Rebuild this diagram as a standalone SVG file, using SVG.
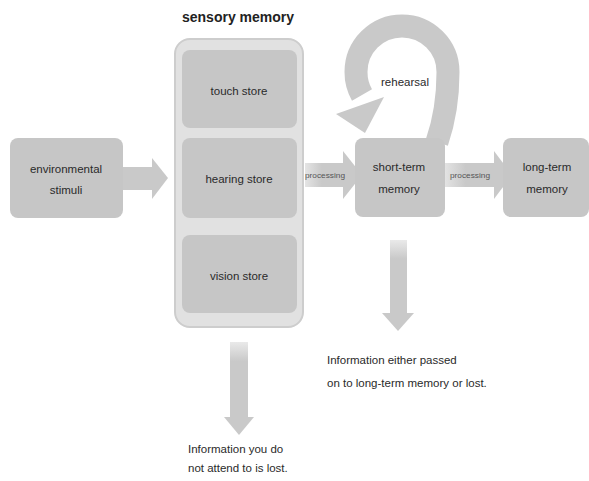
<svg xmlns="http://www.w3.org/2000/svg" width="589" height="481" viewBox="0 0 589 481">
<style>
.box{fill:#c6c6c6;}
.cont{fill:#e1e1e1;stroke:#cdcdcd;stroke-width:2;}
.arr{fill:#c9c9c9;}
.t{font-family:"Liberation Sans",Arial,sans-serif;font-size:11.5px;fill:#2a2a2a;text-anchor:middle;}
.tl{font-family:"Liberation Sans",Arial,sans-serif;font-size:11.5px;fill:#2a2a2a;}
.ts{font-family:"Liberation Sans",Arial,sans-serif;font-size:7px;fill:#555;text-anchor:middle;}
.title{font-family:"Liberation Sans",Arial,sans-serif;font-size:14px;font-weight:bold;fill:#222;text-anchor:middle;}
</style>
<defs>
<linearGradient id="fadeV" x1="0" y1="0" x2="0" y2="1">
<stop offset="0" stop-color="#c9c9c9" stop-opacity="0.4"/>
<stop offset="0.25" stop-color="#c9c9c9"/>
</linearGradient>
<linearGradient id="fadeH" x1="0" y1="0" x2="1" y2="0">
<stop offset="0" stop-color="#c9c9c9" stop-opacity="0.5"/>
<stop offset="0.4" stop-color="#c9c9c9"/>
</linearGradient>
</defs>
<rect width="589" height="481" fill="#ffffff"/>
<g id="connectors">
<rect class="arr" x="122" y="167" width="32" height="23"/>
<polygon class="arr" points="152,158 168,178 152,199"/>
<rect fill="url(#fadeH)" x="305" y="163" width="42" height="24"/>
<polygon class="arr" points="343,151 362,175 343,199"/>
<text class="ts" x="325" y="178" textLength="40" lengthAdjust="spacingAndGlyphs">processing</text>
<rect fill="url(#fadeH)" x="444" y="163" width="54" height="24"/>
<polygon class="arr" points="494,151 512,175 494,199"/>
<text class="ts" x="470" y="178" textLength="40" lengthAdjust="spacingAndGlyphs">processing</text>
<path d="M 437 142 Q 448 110 448 72 A 46 46 0 0 0 356 72 A 46 46 0 0 0 362 95" fill="none" stroke="#c9c9c9" stroke-width="23"/>
<polygon class="arr" points="336,114 384,97 365,133"/>
<rect fill="url(#fadeV)" x="230" y="342" width="18" height="77"/>
<polygon class="arr" points="224,417 254,417 239,435"/>
<rect fill="url(#fadeV)" x="390" y="240" width="17" height="75"/>
<polygon class="arr" points="382,313 414,313 398,331"/>
</g>
<g id="title"><text class="title" x="238" y="22">sensory memory</text></g>
<g id="env">
<rect class="box" x="10" y="138" width="113" height="80" rx="8"/>
<text class="t" x="66" y="173">environmental</text>
<text class="t" x="66" y="194">stimuli</text>
</g>
<g id="sensory">
<rect class="cont" x="175" y="39" width="128" height="288" rx="15"/>
</g>
<g id="touch">
<rect class="box" x="182" y="50" width="115" height="78" rx="8"/>
<text class="t" x="239" y="95">touch store</text>
</g>
<g id="hearing">
<rect class="box" x="182" y="138" width="115" height="80" rx="8"/>
<text class="t" x="239" y="183">hearing store</text>
</g>
<g id="vision">
<rect class="box" x="182" y="235" width="115" height="78" rx="8"/>
<text class="t" x="239" y="280">vision store</text>
</g>
<g id="stm">
<rect class="box" x="355" y="138" width="90" height="79" rx="8"/>
<text class="t" x="399" y="171">short-term</text>
<text class="t" x="399" y="193">memory</text>
</g>
<g id="ltm">
<rect class="box" x="503" y="138" width="86" height="79" rx="8"/>
<text class="t" x="547" y="171">long-term</text>
<text class="t" x="547" y="193">memory</text>
</g>
<g id="rehearsal"><text class="t" x="405" y="86">rehearsal</text></g>
<g id="note1">
<text class="tl" x="188" y="453">Information you do</text>
<text class="tl" x="188" y="472">not attend to is lost.</text>
</g>
<g id="note2">
<text class="tl" x="327" y="364">Information either passed</text>
<text class="tl" x="327" y="387">on to long-term memory or lost.</text>
</g>
</svg>
